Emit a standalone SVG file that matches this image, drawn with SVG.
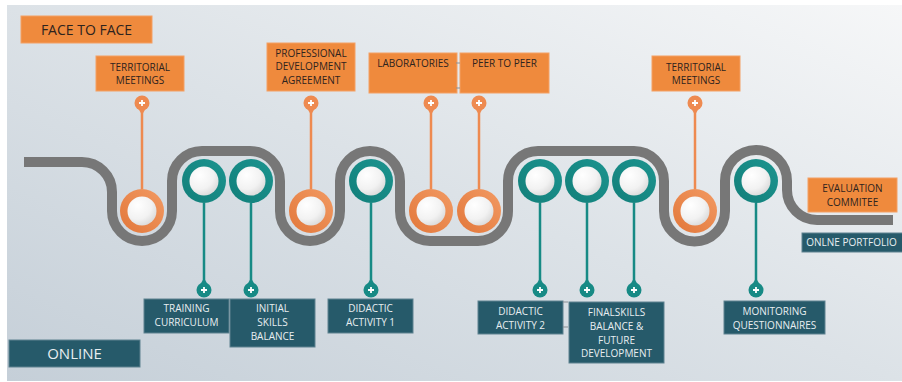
<svg xmlns="http://www.w3.org/2000/svg" width="902" height="382" viewBox="0 0 902 382">
<defs>
<linearGradient id="bg" x1="0" y1="1" x2="1" y2="0">
<stop offset="0" stop-color="#C5CFD8"/>
<stop offset="0.5" stop-color="#DCE2E7"/>
<stop offset="1" stop-color="#F6F7F8"/>
</linearGradient>
<radialGradient id="pearl" cx="0.35" cy="0.3" r="0.8">
<stop offset="0" stop-color="#FFFFFF"/>
<stop offset="0.6" stop-color="#F2F2F2"/>
<stop offset="1" stop-color="#D6D6D6"/>
</radialGradient>
<linearGradient id="ringO" x1="1" y1="0" x2="0" y2="1">
<stop offset="0" stop-color="#F29A63"/>
<stop offset="1" stop-color="#E2773A"/>
</linearGradient>
<linearGradient id="ringT" x1="1" y1="0" x2="0" y2="1">
<stop offset="0" stop-color="#1C948F"/>
<stop offset="1" stop-color="#127F7A"/>
</linearGradient>
<style>
.ob{fill:#EF8A3D;stroke:#F4A064;stroke-width:1}
.tb{fill:#265A6A;stroke:#5E8290;stroke-width:1}
.ot{font-family:"Open Sans","Liberation Sans",sans-serif;font-size:10px;font-weight:500;fill:#2E231D;text-anchor:middle}
.tt{font-family:"Open Sans","Liberation Sans",sans-serif;font-size:10px;font-weight:500;fill:#E8EEF1;text-anchor:middle}
.road{fill:none;stroke:#777777;stroke-width:10}
.lo{stroke:#EE8A50;stroke-width:2.5;fill:none}
.lt{stroke:#178A85;stroke-width:2.5;fill:none}
.po{fill:#EE8A50}
.pt{fill:#178A85}
.plus{stroke:#FFFFFF;stroke-width:1.8;fill:none}
.ro{fill:url(#ringO)}
.rt{fill:url(#ringT)}
.pe{fill:url(#pearl)}
.tick{stroke:#8A8F94;stroke-width:1;fill:none}
</style>
</defs>
<rect x="0" y="0" width="902" height="382" fill="#FFFFFF"/>
<rect x="7" y="5" width="895" height="376" fill="url(#bg)"/>

<path class="road" d="M24 162 H82 A30 30 0 0 1 112 192 V211 A30 30 0 0 0 172 211 V181 A30 30 0 0 1 202 151 H250 A30 30 0 0 1 280 181 V211 A30 30 0 0 0 340 211 V181 A30 30 0 0 1 400 181 V211 A30 30 0 0 0 430 241 H478 A30 30 0 0 0 508 211 V181 A30 30 0 0 1 538 151 H634 A30 30 0 0 1 664 181 V211 A30.5 30.5 0 0 0 725 211 V181 A31 31 0 0 1 787 181 V190 A30 30 0 0 0 817 220 H893"/>

<g id="connectors">
<path class="lo" d="M142 103 V189 M311 103 V189 M431 103 V189 M479 103 V189 M695 103 V189"/>
<path class="lt" d="M204 203 V290 M251 203 V290 M371 203 V290 M540 203 V290 M587 203 V290 M634 203 V290 M756 203 V290"/>
</g>

<g id="pins-face">
<g transform="translate(142,103)"><circle class="po" r="7.5"/><path class="po" d="M-4 5 L0 12 L4 5 Z"/><path class="plus" d="M-3 0 H3 M0 -3 V3"/></g>
<g transform="translate(311,103)"><circle class="po" r="7.5"/><path class="po" d="M-4 5 L0 12 L4 5 Z"/><path class="plus" d="M-3 0 H3 M0 -3 V3"/></g>
<g transform="translate(431,103)"><circle class="po" r="7.5"/><path class="po" d="M-4 5 L0 12 L4 5 Z"/><path class="plus" d="M-3 0 H3 M0 -3 V3"/></g>
<g transform="translate(479,103)"><circle class="po" r="7.5"/><path class="po" d="M-4 5 L0 12 L4 5 Z"/><path class="plus" d="M-3 0 H3 M0 -3 V3"/></g>
<g transform="translate(695,103)"><circle class="po" r="7.5"/><path class="po" d="M-4 5 L0 12 L4 5 Z"/><path class="plus" d="M-3 0 H3 M0 -3 V3"/></g>
</g>
<g id="pins-online">
<g transform="translate(204,290)"><circle class="pt" r="7.5"/><path class="pt" d="M-4 -5 L0 -12 L4 -5 Z"/><path class="plus" d="M-3 0 H3 M0 -3 V3"/></g>
<g transform="translate(251,290)"><circle class="pt" r="7.5"/><path class="pt" d="M-4 -5 L0 -12 L4 -5 Z"/><path class="plus" d="M-3 0 H3 M0 -3 V3"/></g>
<g transform="translate(371,290)"><circle class="pt" r="7.5"/><path class="pt" d="M-4 -5 L0 -12 L4 -5 Z"/><path class="plus" d="M-3 0 H3 M0 -3 V3"/></g>
<g transform="translate(540,290)"><circle class="pt" r="7.5"/><path class="pt" d="M-4 -5 L0 -12 L4 -5 Z"/><path class="plus" d="M-3 0 H3 M0 -3 V3"/></g>
<g transform="translate(587,290)"><circle class="pt" r="7.5"/><path class="pt" d="M-4 -5 L0 -12 L4 -5 Z"/><path class="plus" d="M-3 0 H3 M0 -3 V3"/></g>
<g transform="translate(634,290)"><circle class="pt" r="7.5"/><path class="pt" d="M-4 -5 L0 -12 L4 -5 Z"/><path class="plus" d="M-3 0 H3 M0 -3 V3"/></g>
<g transform="translate(756,290)"><circle class="pt" r="7.5"/><path class="pt" d="M-4 -5 L0 -12 L4 -5 Z"/><path class="plus" d="M-3 0 H3 M0 -3 V3"/></g>
</g>

<g id="stops-face">
<g id="stop-o1"><circle class="ro" cx="142" cy="211" r="22"/><circle class="pe" cx="142" cy="211" r="14.5"/></g>
<g id="stop-o2"><circle class="ro" cx="311" cy="211" r="22"/><circle class="pe" cx="311" cy="211" r="14.5"/></g>
<g id="stop-o3"><circle class="ro" cx="431" cy="211" r="22"/><circle class="pe" cx="431" cy="211" r="14.5"/></g>
<g id="stop-o4"><circle class="ro" cx="479" cy="211" r="22"/><circle class="pe" cx="479" cy="211" r="14.5"/></g>
<g id="stop-o5"><circle class="ro" cx="695" cy="211" r="22"/><circle class="pe" cx="695" cy="211" r="14.5"/></g>
</g>
<g id="stops-online">
<g id="stop-t1"><circle class="rt" cx="204" cy="181" r="22"/><circle class="pe" cx="204" cy="181" r="14.5"/></g>
<g id="stop-t2"><circle class="rt" cx="251" cy="181" r="22"/><circle class="pe" cx="251" cy="181" r="14.5"/></g>
<g id="stop-t3"><circle class="rt" cx="371" cy="181" r="22"/><circle class="pe" cx="371" cy="181" r="14.5"/></g>
<g id="stop-t4"><circle class="rt" cx="540" cy="181" r="22"/><circle class="pe" cx="540" cy="181" r="14.5"/></g>
<g id="stop-t5"><circle class="rt" cx="587" cy="181" r="22"/><circle class="pe" cx="587" cy="181" r="14.5"/></g>
<g id="stop-t6"><circle class="rt" cx="634" cy="181" r="22"/><circle class="pe" cx="634" cy="181" r="14.5"/></g>
<g id="stop-t7"><circle class="rt" cx="756" cy="181" r="22"/><circle class="pe" cx="756" cy="181" r="14.5"/></g>
</g>

<g id="face-to-face"><rect class="ob" x="21" y="16" width="131" height="27"/><text class="ot" x="86.5" y="34.5" style="font-size:14px">FACE TO FACE</text></g>
<g id="territorial-1"><rect class="ob" x="96" y="56" width="88" height="35"/><text class="ot" x="140" y="70.5">TERRITORIAL</text><text class="ot" x="140" y="84">MEETINGS</text></g>
<g id="professional"><rect class="ob" x="267" y="43" width="88" height="48"/><text class="ot" x="311" y="56.5">PROFESSIONAL</text><text class="ot" x="311" y="70">DEVELOPMENT</text><text class="ot" x="311" y="83.5">AGREEMENT</text></g>
<g id="laboratories"><rect class="ob" x="369" y="53" width="88" height="40"/><text class="ot" x="413" y="66.5">LABORATORIES</text></g>
<g id="peer-to-peer"><rect class="ob" x="460" y="53" width="89" height="40"/><text class="ot" x="504.5" y="66.5">PEER TO PEER</text></g>
<path class="tick" d="M456 63 H460 M456 88 H460"/>
<g id="territorial-2"><rect class="ob" x="652" y="56" width="88" height="35"/><text class="ot" x="696" y="70.5">TERRITORIAL</text><text class="ot" x="696" y="84">MEETINGS</text></g>
<g id="evaluation"><rect class="ob" x="808" y="178" width="89" height="34"/><text class="ot" x="852.5" y="191.5">EVALUATION</text><text class="ot" x="852.5" y="205.5">COMMITEE</text></g>

<g id="online-portfolio"><rect class="tb" x="802" y="233" width="101" height="19"/><text class="tt" x="851.5" y="246">ONLNE PORTFOLIO</text></g>
<g id="online"><rect class="tb" x="9" y="340" width="131" height="27"/><text class="tt" x="74.5" y="359" style="font-size:15px">ONLINE</text></g>
<g id="training"><rect class="tb" x="144" y="299" width="85" height="34"/><text class="tt" x="186.5" y="312">TRAINING</text><text class="tt" x="186.5" y="326">CURRICULUM</text></g>
<g id="initial-skills"><rect class="tb" x="230" y="299" width="85" height="48"/><text class="tt" x="272.5" y="312">INITIAL</text><text class="tt" x="272.5" y="326">SKILLS</text><text class="tt" x="272.5" y="340">BALANCE</text></g>
<g id="didactic-1"><rect class="tb" x="328" y="299" width="85" height="34"/><text class="tt" x="370.5" y="312">DIDACTIC</text><text class="tt" x="370.5" y="326">ACTIVITY 1</text></g>
<g id="didactic-2"><rect class="tb" x="478" y="301" width="85" height="33"/><text class="tt" x="520.5" y="315">DIDACTIC</text><text class="tt" x="520.5" y="329">ACTIVITY 2</text></g>
<path class="tick" d="M563 302 H568 M563 327 H568"/>
<g id="final-skills"><rect class="tb" x="569" y="302" width="95" height="61"/><text class="tt" x="616.5" y="316">FINALSKILLS</text><text class="tt" x="616.5" y="330">BALANCE &amp;</text><text class="tt" x="616.5" y="343.5">FUTURE</text><text class="tt" x="616.5" y="357">DEVELOPMENT</text></g>
<g id="monitoring"><rect class="tb" x="724" y="301" width="101" height="33"/><text class="tt" x="774.5" y="315">MONITORING</text><text class="tt" x="774.5" y="329">QUESTIONNAIRES</text></g>
</svg>
